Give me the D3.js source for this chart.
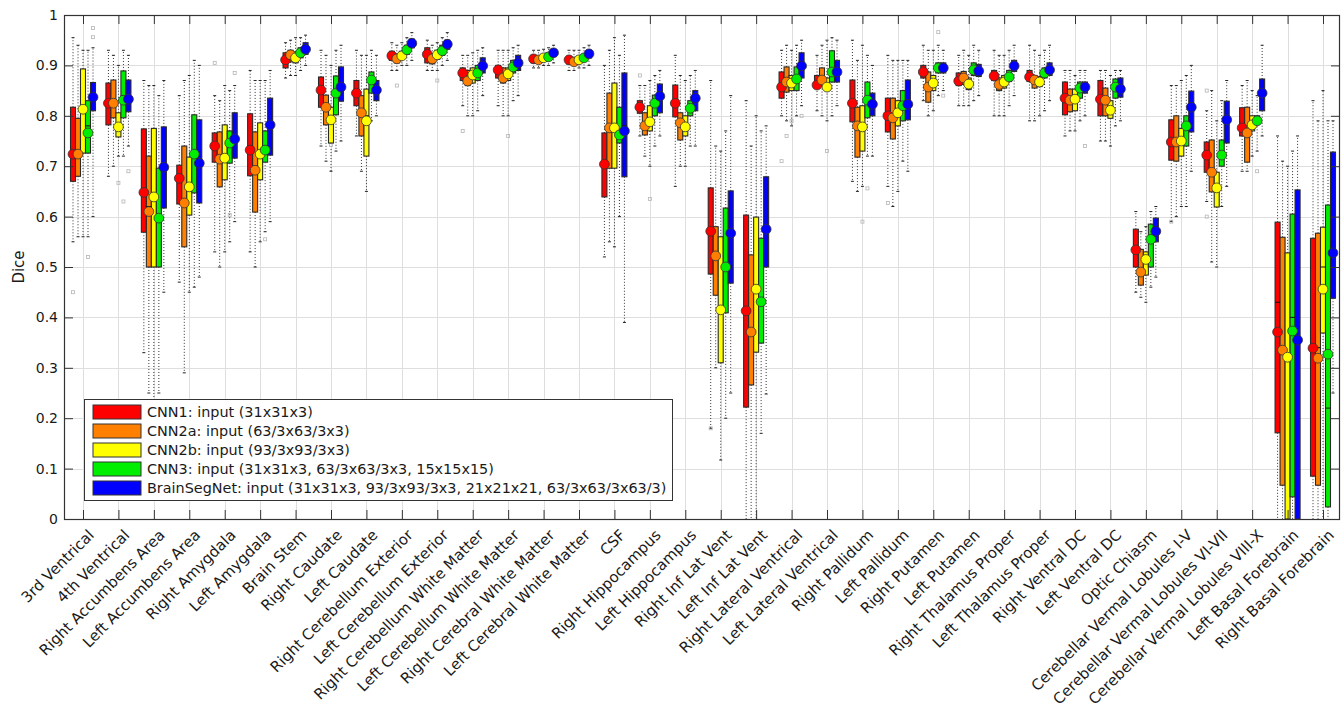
<!DOCTYPE html>
<html>
<head>
<meta charset="utf-8">
<script src="https://cdn.jsdelivr.net/npm/d3@7"></script>
<style>
  body { margin: 0; background: #ffffff; }
  text { font-family: "DejaVu Sans", sans-serif; fill: #1a1a1a; }
</style>
</head>
<body>
<svg id="chart" width="1342" height="716"></svg>
<script>
// Anatomical structures along the x axis
const categories = [
  "3rd Ventrical", "4th Ventrical", "Right Accumbens Area", "Left Accumbens Area",
  "Right Amygdala", "Left Amygdala", "Brain Stem", "Right Caudate", "Left Caudate",
  "Right Cerebellum Exterior", "Left Cerebellum Exterior", "Right Cerebellum White Matter",
  "Left Cerebellum White Matter", "Right Cerebral White Matter", "Left Cerebral White Matter",
  "CSF", "Right Hippocampus", "Left Hippocampus", "Right Inf Lat Vent", "Left Inf Lat Vent",
  "Right Lateral Ventrical", "Left Lateral Ventrical", "Right Pallidum", "Left Pallidum",
  "Right Putamen", "Left Putamen", "Right Thalamus Proper", "Left Thalamus Proper",
  "Right Ventral DC", "Left Ventral DC", "Optic Chiasm", "Cerebellar Vermal Lobules I-V",
  "Cerebellar Vermal Lobules VI-VII", "Cerebellar Vermal Lobules VIII-X",
  "Left Basal Forebrain", "Right Basal Forebrain"
];

const seriesNames = [
  "CNN1: input (31x31x3)",
  "CNN2a: input (63/3x63/3x3)",
  "CNN2b: input (93/3x93/3x3)",
  "CNN3: input (31x31x3, 63/3x63/3x3, 15x15x15)",
  "BrainSegNet: input (31x31x3, 93/3x93/3x3, 21x21x21, 63/3x63/3x63/3)"
];

const seriesColors = ["#ff0000", "#ff8000", "#ffff00", "#00ee00", "#0000ff"];

const yTickValues = [0, 0.1, 0.2, 0.3, 0.4, 0.5, 0.6, 0.7, 0.8, 0.9, 1];
const yTickLabels = ["0", "0.1", "0.2", "0.3", "0.4", "0.5", "0.6", "0.7", "0.8", "0.9", "1"];

// Per structure: [whisker low, Q1, median, Q3, whisker high, mean]
const cnn1 = [
  [0.55,0.67,0.73,0.817,0.955,0.724],[0.68,0.782,0.83,0.865,0.93,0.825],
  [0.33,0.569,0.65,0.774,0.87,0.648],[0.47,0.625,0.68,0.702,0.84,0.676],
  [0.53,0.708,0.74,0.766,0.84,0.740],[0.53,0.681,0.74,0.804,0.89,0.732],
  [0.875,0.895,0.912,0.925,0.945,0.911],[0.74,0.817,0.85,0.877,0.93,0.851],
  [0.76,0.82,0.85,0.87,0.93,0.845],[0.89,0.91,0.92,0.928,0.945,0.919],
  [0.89,0.905,0.922,0.935,0.95,0.922],[0.82,0.87,0.886,0.895,0.92,0.885],
  [0.82,0.875,0.892,0.90,0.93,0.891],[0.895,0.905,0.913,0.92,0.93,0.913],
  [0.89,0.903,0.911,0.918,0.93,0.911],[0.52,0.639,0.70,0.766,0.90,0.704],
  [0.76,0.805,0.82,0.83,0.86,0.817],[0.66,0.798,0.83,0.861,0.92,0.825],
  [0.18,0.486,0.57,0.657,0.87,0.571],[0.0,0.222,0.41,0.603,0.83,0.413],
  [0.80,0.835,0.86,0.887,0.93,0.857],[0.81,0.855,0.865,0.88,0.92,0.861],
  [0.67,0.788,0.83,0.871,0.95,0.825],[0.66,0.768,0.80,0.835,0.92,0.800],
  [0.83,0.875,0.888,0.90,0.94,0.887],[0.82,0.86,0.87,0.885,0.92,0.869],
  [0.80,0.87,0.88,0.89,0.93,0.879],[0.79,0.868,0.878,0.89,0.94,0.877],
  [0.76,0.802,0.835,0.867,0.89,0.835],[0.75,0.80,0.833,0.87,0.89,0.833],
  [0.45,0.50,0.535,0.575,0.61,0.534],[0.59,0.712,0.75,0.792,0.86,0.748],
  [0.63,0.688,0.72,0.748,0.81,0.722],[0.69,0.76,0.78,0.816,0.86,0.776],
  [0.0,0.171,0.43,0.589,0.76,0.371],[0.0,0.085,0.34,0.557,0.83,0.339]
];
const cnn2a = [
  [0.56,0.68,0.73,0.795,0.94,0.724],[0.70,0.796,0.83,0.871,0.92,0.825],
  [0.25,0.50,0.62,0.72,0.86,0.61],[0.29,0.54,0.63,0.74,0.87,0.627],
  [0.50,0.659,0.72,0.768,0.83,0.714],[0.50,0.609,0.70,0.768,0.87,0.692],
  [0.88,0.907,0.92,0.930,0.95,0.921],[0.71,0.782,0.82,0.841,0.92,0.817],
  [0.69,0.76,0.81,0.84,0.92,0.806],[0.89,0.905,0.914,0.922,0.94,0.913],
  [0.89,0.903,0.912,0.922,0.94,0.913],[0.80,0.86,0.872,0.89,0.92,0.869],
  [0.80,0.865,0.877,0.895,0.93,0.875],[0.895,0.905,0.911,0.918,0.93,0.911],
  [0.89,0.90,0.907,0.915,0.93,0.907],[0.55,0.696,0.78,0.845,0.93,0.776],
  [0.72,0.762,0.785,0.806,0.86,0.780],[0.70,0.752,0.79,0.806,0.88,0.786],
  [0.30,0.444,0.52,0.58,0.74,0.522],[0.0,0.266,0.37,0.524,0.74,0.371],
  [0.79,0.847,0.87,0.897,0.94,0.867],[0.80,0.86,0.875,0.895,0.94,0.871],
  [0.65,0.718,0.78,0.817,0.91,0.780],[0.62,0.754,0.80,0.835,0.91,0.796],
  [0.80,0.827,0.86,0.887,0.93,0.857],[0.82,0.862,0.876,0.888,0.93,0.875],
  [0.80,0.85,0.865,0.875,0.92,0.862],[0.79,0.855,0.872,0.88,0.93,0.871],
  [0.77,0.808,0.83,0.853,0.89,0.831],[0.75,0.80,0.83,0.855,0.89,0.831],
  [0.44,0.464,0.49,0.535,0.57,0.49],[0.60,0.71,0.75,0.80,0.86,0.748],
  [0.51,0.649,0.69,0.752,0.85,0.688],[0.69,0.708,0.77,0.817,0.87,0.766],
  [0.0,0.067,0.34,0.559,0.71,0.335],[0.0,0.067,0.34,0.567,0.79,0.319]
];
const cnn2b = [
  [0.56,0.726,0.82,0.893,0.93,0.813],[0.72,0.758,0.78,0.806,0.90,0.778],
  [0.23,0.50,0.64,0.775,0.86,0.639],[0.45,0.603,0.66,0.718,0.88,0.659],
  [0.53,0.673,0.72,0.782,0.86,0.716],[0.55,0.673,0.73,0.786,0.87,0.724],
  [0.88,0.905,0.916,0.927,0.955,0.915],[0.69,0.746,0.80,0.817,0.90,0.792],
  [0.65,0.72,0.80,0.853,0.92,0.790],[0.90,0.912,0.92,0.928,0.945,0.919],
  [0.89,0.912,0.92,0.93,0.945,0.921],[0.80,0.865,0.882,0.895,0.925,0.881],
  [0.80,0.87,0.884,0.895,0.93,0.883],[0.90,0.908,0.915,0.922,0.932,0.915],
  [0.895,0.905,0.911,0.918,0.93,0.911],[0.54,0.696,0.78,0.865,0.955,0.776],
  [0.70,0.77,0.79,0.82,0.87,0.788],[0.70,0.76,0.78,0.80,0.87,0.778],
  [0.117,0.31,0.42,0.56,0.73,0.415],[0.0,0.331,0.46,0.599,0.80,0.456],
  [0.78,0.85,0.866,0.88,0.93,0.865],[0.79,0.85,0.86,0.875,0.95,0.857],
  [0.66,0.73,0.78,0.82,0.94,0.778],[0.65,0.78,0.81,0.83,0.91,0.806],
  [0.81,0.85,0.865,0.88,0.93,0.865],[0.82,0.852,0.864,0.875,0.92,0.863],
  [0.80,0.855,0.868,0.88,0.92,0.867],[0.80,0.858,0.868,0.878,0.92,0.867],
  [0.77,0.81,0.833,0.853,0.88,0.833],[0.74,0.795,0.812,0.83,0.88,0.811],
  [0.43,0.484,0.515,0.53,0.58,0.515],[0.62,0.72,0.75,0.775,0.87,0.750],
  [0.50,0.619,0.66,0.688,0.79,0.657],[0.72,0.77,0.785,0.80,0.85,0.782],
  [0.0,0.0,0.32,0.528,0.70,0.321],[0.0,0.369,0.50,0.579,0.85,0.456]
];
const cnn3 = [
  [0.56,0.726,0.78,0.83,0.93,0.766],[0.72,0.796,0.84,0.889,0.93,0.831],
  [0.25,0.50,0.60,0.696,0.84,0.597],[0.46,0.647,0.73,0.802,0.91,0.724],
  [0.55,0.706,0.75,0.770,0.85,0.746],[0.57,0.708,0.74,0.770,0.87,0.732],
  [0.89,0.915,0.925,0.935,0.955,0.925],[0.73,0.802,0.85,0.879,0.93,0.845],
  [0.79,0.845,0.875,0.887,0.93,0.871],[0.90,0.922,0.932,0.94,0.955,0.931],
  [0.90,0.92,0.93,0.94,0.955,0.929],[0.81,0.87,0.886,0.90,0.93,0.885],
  [0.83,0.885,0.898,0.91,0.935,0.897],[0.90,0.91,0.917,0.925,0.935,0.917],
  [0.895,0.908,0.915,0.922,0.935,0.915],[0.60,0.746,0.77,0.817,0.92,0.762],
  [0.74,0.80,0.83,0.841,0.88,0.825],[0.74,0.80,0.82,0.83,0.88,0.815],
  [0.20,0.409,0.50,0.617,0.77,0.50],[0.17,0.349,0.43,0.557,0.77,0.431],
  [0.80,0.85,0.875,0.897,0.94,0.873],[0.80,0.867,0.89,0.929,0.955,0.887],
  [0.72,0.796,0.835,0.867,0.92,0.831],[0.71,0.79,0.825,0.85,0.91,0.82],
  [0.84,0.885,0.896,0.905,0.94,0.895],[0.83,0.88,0.892,0.905,0.94,0.891],
  [0.82,0.868,0.878,0.89,0.93,0.877],[0.81,0.875,0.886,0.895,0.93,0.885],
  [0.79,0.835,0.856,0.867,0.89,0.855],[0.78,0.835,0.857,0.873,0.89,0.857],
  [0.46,0.50,0.555,0.585,0.61,0.555],[0.62,0.74,0.78,0.80,0.88,0.780],
  [0.62,0.70,0.725,0.752,0.83,0.722],[0.73,0.785,0.79,0.80,0.84,0.790],
  [0.0,0.044,0.40,0.605,0.73,0.373],[0.0,0.024,0.22,0.623,0.79,0.327]
];
const brainSegNet = [
  [0.60,0.81,0.84,0.866,0.935,0.837],[0.74,0.808,0.835,0.871,0.92,0.833],
  [0.45,0.617,0.70,0.778,0.87,0.698],[0.48,0.627,0.71,0.792,0.90,0.706],
  [0.59,0.716,0.76,0.806,0.86,0.754],[0.59,0.722,0.79,0.835,0.89,0.782],
  [0.90,0.922,0.933,0.945,0.96,0.932],[0.75,0.829,0.86,0.897,0.94,0.857],
  [0.80,0.83,0.85,0.87,0.92,0.851],[0.91,0.935,0.945,0.952,0.965,0.944],
  [0.91,0.932,0.942,0.95,0.965,0.942],[0.84,0.885,0.90,0.915,0.935,0.899],
  [0.84,0.89,0.905,0.92,0.94,0.905],[0.905,0.918,0.925,0.932,0.94,0.925],
  [0.90,0.915,0.923,0.93,0.94,0.923],[0.39,0.679,0.78,0.885,0.96,0.770],
  [0.76,0.806,0.84,0.863,0.89,0.839],[0.74,0.81,0.835,0.85,0.89,0.835],
  [0.25,0.468,0.57,0.651,0.84,0.567],[0.248,0.50,0.58,0.679,0.78,0.575],
  [0.82,0.875,0.90,0.925,0.95,0.899],[0.82,0.867,0.89,0.91,0.95,0.887],
  [0.72,0.80,0.825,0.845,0.90,0.823],[0.69,0.792,0.825,0.871,0.91,0.823],
  [0.85,0.885,0.896,0.905,0.93,0.895],[0.84,0.878,0.89,0.902,0.93,0.889],
  [0.84,0.888,0.90,0.91,0.94,0.899],[0.83,0.88,0.892,0.905,0.94,0.891],
  [0.80,0.845,0.857,0.867,0.89,0.857],[0.79,0.837,0.853,0.875,0.89,0.853],
  [0.48,0.55,0.571,0.597,0.62,0.571],[0.69,0.768,0.82,0.849,0.90,0.817],
  [0.66,0.746,0.80,0.829,0.87,0.792],[0.76,0.81,0.85,0.873,0.94,0.845],
  [0.0,0.0,0.36,0.653,0.76,0.355],[0.25,0.438,0.53,0.728,0.79,0.528]
];

// Individual outlying cases: [structure index, series index, Dice]
const outliers = [
  [0,4,0.974],[0,4,0.956],[0,3,0.52],[0,0,0.45],[1,2,0.667],[1,4,0.69],[1,3,0.63],
  [4,0,0.905],[4,4,0.885],[4,3,0.603],[5,3,0.555],[7,2,0.742],[9,1,0.86],[10,2,0.87],
  [11,0,0.77],[12,2,0.76],[16,0,0.88],[16,2,0.635],[18,0,0.18],[20,0,0.71],[20,1,0.76],
  [20,2,0.79],[20,4,0.80],[21,2,0.73],[22,2,0.59],[22,3,0.656],[23,0,0.627],[24,3,0.966],
  [24,4,0.84],[28,4,0.74],[31,0,0.59],[32,0,0.85],[32,0,0.60],[33,3,0.69]
];

const seriesStats = [cnn1, cnn2a, cnn2b, cnn3, brainSegNet];

const svg = d3.select("#chart");
const frame = { left: 64, right: 1340, top: 15, bottom: 519 };

const x = d3.scalePoint().domain(categories).range([83, 1323]);
const y = d3.scaleLinear().domain([0, 1]).range([frame.bottom, frame.top]);
const slot = d3.scaleBand().domain(d3.range(seriesNames.length)).range([-12.5, 12.5]);
const boxW = slot.bandwidth();
const cx = (ci, si) => x(categories[ci]) + slot(si) + boxW / 2;

// plot background and grid
svg.append("rect").attr("x", frame.left).attr("y", frame.top)
  .attr("width", frame.right - frame.left).attr("height", frame.bottom - frame.top)
  .attr("fill", "#ffffff");

const grid = svg.append("g").attr("stroke", "#dedede").attr("stroke-width", 1);
grid.selectAll("line.h").data(yTickValues.slice(1, -1)).join("line")
  .attr("x1", frame.left).attr("x2", frame.right)
  .attr("y1", d => Math.round(y(d)) + 0.5).attr("y2", d => Math.round(y(d)) + 0.5);
grid.selectAll("line.v").data(categories).join("line")
  .attr("y1", frame.top).attr("y2", frame.bottom)
  .attr("x1", d => Math.round(x(d)) + 0.5).attr("x2", d => Math.round(x(d)) + 0.5);

// flatten box statistics
const boxes = [];
seriesStats.forEach((rows, si) => rows.forEach((r, ci) => boxes.push({
  ci, si, lo: r[0], q1: r[1], med: r[2], q3: r[3], hi: r[4], mean: r[5]
})));

// dotted whiskers
const wh = svg.append("g").attr("stroke", "#333").attr("stroke-width", 1)
  .attr("stroke-dasharray", "1,2");
wh.selectAll("line.up").data(boxes).join("line")
  .attr("x1", d => cx(d.ci, d.si)).attr("x2", d => cx(d.ci, d.si))
  .attr("y1", d => y(d.q3)).attr("y2", d => y(d.hi));
wh.selectAll("line.dn").data(boxes).join("line")
  .attr("x1", d => cx(d.ci, d.si)).attr("x2", d => cx(d.ci, d.si))
  .attr("y1", d => y(d.q1)).attr("y2", d => y(d.lo));

const caps = svg.append("g").attr("stroke", "#222").attr("stroke-width", 1);
boxes.forEach(d => {
  [d.lo, d.hi].forEach(v => {
    if (v <= 0) return;
    caps.append("line")
      .attr("x1", cx(d.ci, d.si) - 1.5).attr("x2", cx(d.ci, d.si) + 1.5)
      .attr("y1", y(v)).attr("y2", y(v));
  });
});

// outliers
svg.append("g").selectAll("rect").data(outliers).join("rect")
  .attr("x", d => cx(d[0], d[1]) - 1.5).attr("y", d => y(d[2]) - 1.5)
  .attr("width", 3).attr("height", 3)
  .attr("fill", "none").attr("stroke", "#b5b5b5").attr("stroke-width", 0.8);

// boxes
svg.append("g").selectAll("rect").data(boxes).join("rect")
  .attr("x", d => cx(d.ci, d.si) - boxW / 2)
  .attr("y", d => y(d.q3))
  .attr("width", boxW)
  .attr("height", d => Math.max(0.5, y(d.q1) - y(d.q3)))
  .attr("fill", d => seriesColors[d.si])
  .attr("stroke", "#2a2a2a").attr("stroke-width", 1.1);

// medians
svg.append("g").attr("stroke", "#111").attr("stroke-width", 1)
  .selectAll("line").data(boxes).join("line")
  .attr("x1", d => cx(d.ci, d.si) - boxW / 2).attr("x2", d => cx(d.ci, d.si) + boxW / 2)
  .attr("y1", d => y(d.med)).attr("y2", d => y(d.med));

// mean markers
svg.append("g").selectAll("circle").data(boxes).join("circle")
  .attr("cx", d => cx(d.ci, d.si)).attr("cy", d => y(d.mean))
  .attr("r", 4.9)
  .attr("fill", d => seriesColors[d.si])
  .attr("stroke", "#333").attr("stroke-width", 0.8);

// axes (ticks pointing inward on all four sides)
const axB = svg.append("g").attr("transform", `translate(0,${frame.bottom})`)
  .call(d3.axisBottom(x).tickSize(-9).tickFormat(""));
const axT = svg.append("g").attr("transform", `translate(0,${frame.top})`)
  .call(d3.axisTop(x).tickSize(-9).tickFormat(""));
const axL = svg.append("g").attr("transform", `translate(${frame.left},0)`)
  .call(d3.axisLeft(y).tickValues(yTickValues).tickSize(-9).tickPadding(6)
    .tickFormat((d, i) => yTickLabels[i]));
const axR = svg.append("g").attr("transform", `translate(${frame.right},0)`)
  .call(d3.axisRight(y).tickValues(yTickValues).tickSize(-9).tickFormat(""));
[axB, axT, axL, axR].forEach(g => {
  g.select(".domain").remove();
  g.selectAll(".tick line").attr("stroke", "#333");
});
axL.selectAll(".tick text").attr("font-size", 14).attr("fill", "#1a1a1a")
  .attr("font-family", "DejaVu Sans");

svg.append("rect").attr("x", frame.left + 0.5).attr("y", frame.top + 0.5)
  .attr("width", frame.right - frame.left - 1).attr("height", frame.bottom - frame.top)
  .attr("fill", "none").attr("stroke", "#333").attr("stroke-width", 1.2);

// rotated category labels
svg.append("g").selectAll("text").data(categories).join("text")
  .attr("transform", d => `translate(${x(d) + 12},${frame.bottom + 17}) rotate(-45)`)
  .attr("text-anchor", "end")
  .attr("font-size", 15)
  .text(d => d);

// y axis title
svg.append("text")
  .attr("transform", `translate(24,${(frame.top + frame.bottom) / 2}) rotate(-90)`)
  .attr("text-anchor", "middle").attr("font-size", 15)
  .text("Dice");

// legend
const legend = svg.append("g").attr("transform", "translate(84,399)");
legend.append("rect").attr("x", 0.5).attr("y", 0.5).attr("width", 588).attr("height", 101)
  .attr("fill", "#ffffff").attr("stroke", "#333").attr("stroke-width", 1);
const rows = legend.selectAll("g.row").data(seriesNames).join("g")
  .attr("transform", (d, i) => `translate(9,${6 + i * 19})`);
rows.append("rect").attr("width", 48).attr("height", 14)
  .attr("fill", (d, i) => seriesColors[i]).attr("stroke", "#333").attr("stroke-width", 1);
rows.append("text").attr("x", 54).attr("y", 12).attr("font-size", 14.4).text(d => d);
</script>
</body>
</html>
